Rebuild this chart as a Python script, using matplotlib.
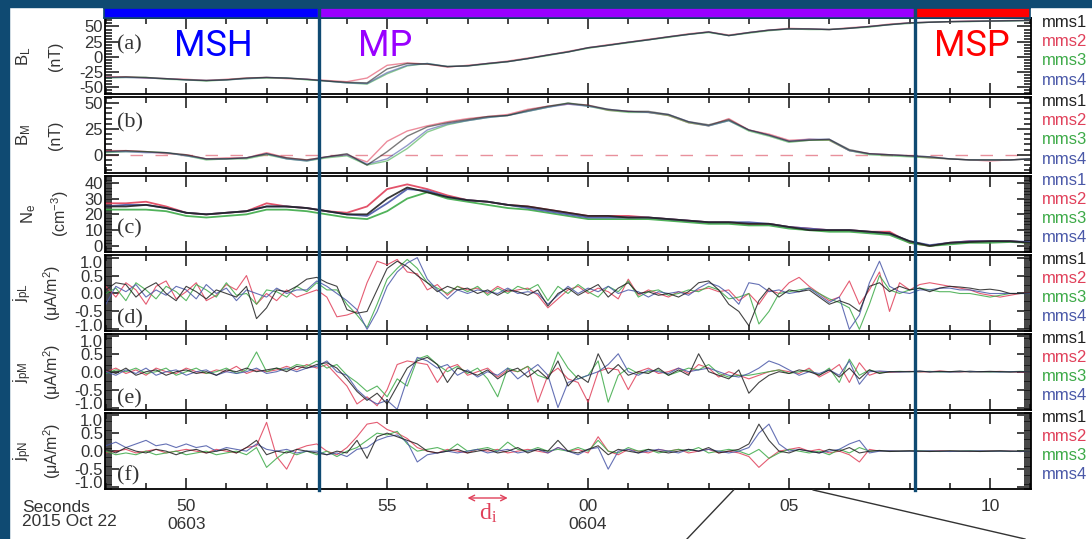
import matplotlib.pyplot as plt
import matplotlib.ticker as ticker
import matplotlib.transforms as mtransforms
from matplotlib.lines import Line2D
import numpy as np

plt.rcParams['font.family'] = ['Liberation Sans', 'DejaVu Sans']
plt.rcParams['mathtext.fontset'] = 'custom'
plt.rcParams['mathtext.rm'] = 'Liberation Sans'
plt.rcParams['mathtext.it'] = 'Liberation Sans:italic'

# ---------------- data (seconds after 06:03:00, 2015 Oct 22) ----------------
t_fast = np.arange(48, 71.001, 0.25)   # current density samples
t_slow = np.arange(48, 71.001, 0.5)    # field / density samples

names = ['mms1', 'mms2', 'mms3', 'mms4']

# B_L (nT)
bl_mms1 = [-34, -33, -34, -36, -38, -39, -38, -35, -34, -35,
           -37, -40, -42, -43, -20, -11, -12, -16, -15, -11,
           -8, -3, 3, 8, 15, 19, 24, 28, 33, 37,
           41, 35, 40, 44, 46, 46, 45, 47, 50, 53,
           56, 57, 58, 58.5, 59, 59.5, 60]
bl_mms2 = [-33, -33, -35, -36, -37, -39, -37, -35, -34, -36,
           -37, -39, -41, -35, -14, -10, -12, -17, -14, -11,
           -7, -2, 3, 9, 15, 20, 24, 29, 33, 38,
           41, 36, 40, 44, 47, 46, 45, 48, 50, 54,
           56, 57, 58, 59, 59, 60, 60]
bl_mms3 = [-35, -34, -34, -37, -38, -40, -38, -36, -35, -35,
           -38, -40, -43, -45, -28, -15, -11, -16, -15, -12,
           -8, -3, 2, 8, 14, 19, 23, 28, 32, 37,
           40, 35, 39, 43, 46, 45, 45, 47, 49, 53,
           55, 57, 58, 58, 59, 59, 60]
bl_mms4 = [-34, -34, -35, -36, -38, -39, -38, -36, -34, -35,
           -37, -40, -43, -44, -26, -14, -11, -16, -15, -11,
           -8, -3, 3, 8, 15, 19, 24, 28, 33, 37,
           41, 35, 40, 44, 46, 46, 45, 47, 50, 53,
           56, 57, 58, 58.5, 59, 59.5, 60]

# B_M (nT)
bm_mms1 = [3, 4, 3, 2, 0, -4, -4, -3, 1, -3,
           -5, -2, 1, -10, 3, 18, 27, 31, 34, 37,
           38, 43, 47, 50, 48, 44, 42, 42, 39, 32,
           29, 34, 24, 19, 13, 14, 15, 5, 1, 0,
           -1, -2, -4, -5, -5, -5, -4]
bm_mms2 = [4, 4, 3, 1, 0, -4, -3, -3, 2, -3,
           -5, -2, 0, -7, 13, 23, 28, 32, 35, 37,
           39, 44, 47, 49, 48, 43, 42, 41, 38, 31,
           28, 35, 24, 20, 14, 15, 14, 4, 1, 0,
           -1, -3, -4, -5, -6, -5, -4]
bm_mms3 = [2, 3, 3, 2, -1, -5, -4, -4, 0, -4,
           -6, -3, -1, -10, -6, 6, 22, 29, 33, 36,
           38, 42, 46, 50, 47, 43, 41, 41, 38, 31,
           28, 33, 23, 18, 12, 14, 14, 4, 0, -1,
           -2, -3, -4, -5, -5, -5, -4]
bm_mms4 = [3, 3, 2, 2, -1, -4, -4, -3, 1, -4,
           -6, -2, 0, -9, -4, 9, 24, 30, 33, 36,
           38, 42, 46, 49, 47, 44, 42, 41, 39, 32,
           28, 33, 24, 19, 13, 15, 15, 4, 1, 0,
           -1, -2, -4, -5, -5, -5, -4]

# N_e (cm^-3)
ne_mms1 = [25, 25, 26, 24, 21, 20, 21, 22, 25, 25,
           24, 22, 20, 20, 30, 37, 34, 31, 29, 28,
           26, 25, 23, 21, 19, 19, 18, 18, 17, 16,
           15, 15, 14, 14, 12, 10, 10, 10, 9, 8,
           3, 0, 2, 2.5, 3, 3, 2]
ne_mms2 = [27, 27, 28, 25, 21, 20, 21, 22, 27, 25,
           24, 22, 21, 25, 36, 39, 36, 32, 29, 28,
           26, 25, 23, 21, 19, 19, 19, 18, 17, 16,
           15, 15, 14, 14, 12, 11, 10, 10, 9, 9,
           2, 0, 2, 3, 3, 3, 2]
ne_mms3 = [23, 23, 23, 22, 19, 18, 19, 20, 23, 23,
           22, 20, 18, 17, 22, 30, 34, 30, 28, 26,
           24, 23, 21, 19, 17, 17, 17, 17, 16, 15,
           14, 14, 13, 13, 11, 10, 9, 9, 8, 7,
           2, 0, 1, 2, 2, 2.5, 2]
ne_mms4 = [25, 26, 26, 24, 21, 20, 21, 22, 25, 25,
           24, 22, 20, 19, 27, 36, 35, 31, 29, 28,
           26, 24, 22, 20, 18, 18, 18, 18, 17, 16,
           15, 15, 15, 14, 12, 11, 10, 10, 9, 8,
           3, 0.5, 2, 3, 3, 3, 2.5]

# j_pL (uA/m^2)
jl_mms1 = [0.1, 0.3, 0.25, -0.1, 0.15, 0.3, 0.0, -0.2,
           0.2, 0.05, -0.15, 0.1, 0.0, -0.1, 0.2, -0.7,
           -0.4, 0.1, 0.05, 0.2, 0.4, 0.45, 0.3, 0.2,
           -0.45, -0.55, -0.5, 0.1, 0.7, 0.9, 0.75, 0.5,
           0.3, 0.05, 0.2, 0.1, 0.15, 0.0, 0.1, -0.05,
           0.1, 0.05, -0.05, 0.1, -0.35, 0.0, 0.15, -0.05,
           0.1, 0.25, -0.1, 0.15, 0.3, 0.0, 0.05, -0.05,
           0.0, -0.1, 0.05, 0.3, 0.35, 0.1, -0.3, -0.5,
           -0.9, -0.2, 0.15, -0.1, 0.1, 0.05, 0.1, -0.1,
           -0.3, -0.2, -0.3, -0.5, 0.2, 0.3, 0.05, 0.2,
           0.1, 0.15, 0.05, 0.15, 0.2, 0.18, 0.15, 0.1,
           0.12, 0.08, 0.0, 0.0, 0.02]
jl_mms2 = [0.2, -0.1, 0.3, 0.1, -0.3, 0.2, 0.35, -0.15,
           0.05, 0.3, -0.2, -0.05, 0.25, 0.1, 0.5, -0.3,
           0.0, -0.2, 0.1, -0.1, 0.0, 0.1, -0.1, -0.65,
           -0.6, -0.5, 0.3, 0.9, 0.8, 0.95, 0.6, 0.55,
           0.1, 0.25, -0.05, 0.2, 0.1, 0.15, 0.0, 0.2,
           0.05, 0.1, 0.15, -0.05, -0.4, -0.15, 0.1, 0.2,
           0.0, 0.15, 0.05, -0.15, 0.4, -0.05, 0.1, 0.0,
           -0.1, 0.05, 0.0, 0.1, 0.15, 0.05, 0.1, -0.2,
           0.0, -0.3, 0.1, 0.0, 0.3, 0.45, 0.2, 0.0,
           -0.2, -0.1, 0.35, -0.3, 0.1, 0.6, -0.5, 0.3,
           0.1, 0.25, 0.3, 0.25, 0.2, 0.15, 0.1, 0.0,
           -0.05, -0.1, -0.05, 0.0, 0.02]
jl_mms3 = [0.0, 0.15, -0.2, 0.3, 0.1, -0.15, 0.2, 0.05,
           -0.2, 0.25, 0.1, -0.1, 0.3, -0.05, 0.0, -0.3,
           0.1, 0.05, -0.1, 0.2, 0.05, 0.3, 0.1, 0.1,
           -0.3, -0.6, -0.95, -0.3, 0.4, 0.7, 0.95, 0.7,
           0.3, 0.15, 0.0, 0.2, 0.05, 0.2, -0.05, 0.15,
           0.0, 0.2, 0.1, 0.25, -0.2, 0.2, 0.0, 0.25,
           0.05, -0.1, 0.2, 0.05, 0.35, -0.1, 0.05, 0.1,
           -0.05, 0.0, 0.1, 0.05, 0.2, 0.1, -0.15, -0.1,
           0.0, -0.85, -0.5, 0.0, 0.05, 0.1, 0.15, 0.0,
           -0.15, -0.25, -0.4, -1.0, -0.3, 0.5, 0.1, 0.0,
           0.1, 0.15, 0.1, 0.05, 0.05, 0.0, 0.0, -0.05,
           -0.1, -0.05, 0.0, 0.0, 0.0]
jl_mms4 = [-0.3, 0.2, 0.05, 0.25, -0.1, 0.1, -0.05, 0.2,
           0.1, -0.15, 0.25, 0.0, 0.15, -0.2, 0.1, 0.0,
           -0.1, 0.15, 0.0, 0.1, 0.1, 0.35, 0.2, 0.0,
           -0.2, -0.45, -1.0, -0.5, 0.2, 0.6, 0.85, 1.0,
           0.4, 0.1, -0.15, 0.1, 0.0, 0.1, 0.05, 0.0,
           0.15, 0.0, 0.05, 0.0, -0.3, -0.05, 0.2, 0.0,
           0.15, 0.05, 0.2, 0.0, 0.1, 0.05, -0.1, 0.05,
           0.0, 0.05, -0.05, 0.15, 0.3, 0.2, 0.0, -0.3,
           0.3, 0.25, 0.05, 0.1, 0.0, 0.05, 0.15, -0.05,
           -0.25, -0.1, -1.0, -0.6, 0.3, 0.9, 0.2, 0.05,
           0.0, 0.1, 0.1, 0.15, 0.15, 0.1, 0.1, 0.05,
           0.0, 0.0, 0.0, 0.0, 0.0]

# j_pM (uA/m^2)
jm_mms1 = [0.05, -0.05, 0.1, -0.1, 0.0, 0.05, -0.1, 0.0,
           0.05, -0.05, 0.0, -0.1, 0.05, 0.0, 0.1, 0.0,
           0.05, 0.1, 0.0, 0.15, 0.1, 0.2, 0.25, 0.1,
           -0.2, -0.55, -0.8, -0.6, -0.9, -0.4, 0.1, 0.3,
           0.4, 0.2, -0.3, 0.1, 0.0, -0.1, 0.05, -0.2,
           0.0, 0.1, -0.15, 0.05, -0.2, 0.3, -0.4, -0.1,
           -0.3, 0.5, -0.05, 0.2, -0.1, 0.0, -0.05, 0.1,
           -0.1, 0.05, -0.1, 0.5, 0.0, -0.1, -0.2, 0.05,
           -0.6, -0.3, -0.1, 0.0, -0.05, 0.05, 0.0, -0.1,
           0.05, -0.15, 0.1, -0.2, 0.05, -0.05, 0.0, 0.0,
           0.0, 0.02, -0.01, 0.01, 0.0, 0.02, -0.01, 0.0,
           0.01, 0.0, -0.01, 0.0, 0.0]
jm_mms2 = [0.0, 0.1, -0.05, 0.05, -0.1, 0.1, 0.0, -0.05,
           0.1, 0.0, -0.05, 0.05, 0.0, 0.15, -0.05, 0.05,
           0.0, 0.05, 0.15, 0.05, 0.2, 0.1, 0.2, -0.1,
           -0.4, -0.9, -0.7, -0.95, -0.5, 0.2, 0.3, 0.25,
           0.2, -0.3, 0.1, 0.2, -0.1, 0.0, 0.1, -0.15,
           0.05, 0.0, 0.15, -0.85, -0.1, 0.1, -0.2, -0.3,
           -0.85, 0.0, 0.1, 0.05, -0.5, 0.0, 0.1, -0.05,
           0.0, 0.1, -0.05, 0.2, 0.1, -0.15, 0.0, -0.1,
           -0.2, -0.1, 0.0, 0.05, 0.0, -0.05, 0.1, -0.15,
           0.0, 0.2, -0.3, 0.25, -0.1, 0.0, -0.02, 0.0,
           0.01, -0.01, 0.0, 0.02, 0.0, -0.01, 0.01, 0.0,
           0.0, 0.01, 0.0, -0.01, 0.0]
jm_mms3 = [-0.05, 0.05, 0.0, 0.1, -0.05, 0.0, 0.1, -0.1,
           0.0, 0.1, -0.05, 0.0, 0.1, -0.05, 0.05, 0.55,
           0.0, 0.1, 0.05, 0.2, 0.15, 0.3, 0.1, 0.2,
           -0.1, -0.3, -0.55, -0.4, -0.7, -0.2, -0.4, 0.35,
           0.45, 0.2, 0.0, 0.15, -0.05, 0.1, -0.2, -0.7,
           0.1, 0.0, 0.15, -0.1, -0.2, 0.55, 0.1, -0.2,
           -0.1, 0.3, -0.85, -0.1, 0.1, -0.05, 0.0, 0.05,
           -0.1, 0.0, 0.1, 0.05, 0.2, -0.05, -0.15, -0.1,
           -0.1, -0.05, 0.0, 0.05, -0.05, 0.0, 0.05, -0.1,
           0.1, -0.3, 0.35, -0.1, 0.05, -0.03, 0.0, 0.01,
           0.0, 0.0, 0.01, -0.01, 0.0, 0.0, 0.01, 0.0,
           -0.01, 0.0, 0.0, 0.01, 0.0]
jm_mms4 = [0.0, -0.1, 0.05, -0.05, 0.1, -0.1, 0.0, 0.05,
           -0.1, 0.0, 0.05, -0.1, 0.0, -0.05, 0.0, 0.1,
           -0.05, 0.0, 0.1, 0.0, 0.1, 0.15, 0.3, 0.0,
           -0.1, -0.5, -0.75, -0.9, -0.8, -1.05, -0.2, 0.4,
           0.3, 0.1, 0.2, -0.1, 0.05, -0.15, 0.0, -0.1,
           0.1, -0.2, 0.0, 0.2, -0.1, -1.0, -0.3, -0.2,
           -0.1, 0.0, 0.2, 0.5, 0.0, -0.1, 0.05, 0.0,
           -0.05, 0.1, 0.0, 0.05, 0.1, 0.0, -0.1, -0.15,
           -0.05, 0.1, 0.3, 0.2, 0.05, -0.1, 0.0, -0.05,
           0.05, -0.1, 0.3, -0.35, 0.0, 0.02, 0.0, -0.01,
           0.0, 0.01, 0.0, 0.0, -0.01, 0.0, 0.01, 0.0,
           0.0, -0.01, 0.0, 0.0, 0.0]

# j_pN (uA/m^2)
jn_mms1 = [0.05, -0.05, 0.1, 0.0, -0.05, 0.05, 0.0, -0.1,
           0.0, 0.05, -0.05, 0.0, 0.05, -0.05, 0.1, 0.3,
           -0.1, 0.0, -0.05, 0.05, 0.0, -0.05, -0.1, 0.0,
           -0.05, 0.3, -0.2, 0.4, 0.5, 0.4, 0.3, 0.2,
           0.0, -0.05, 0.0, 0.05, -0.05, 0.0, 0.05, -0.05,
           0.0, 0.1, -0.05, 0.05, 0.0, 0.3, 0.0, -0.05,
           0.05, 0.15, -0.1, 0.05, 0.0, -0.05, 0.05, 0.0,
           -0.05, 0.0, 0.05, 0.0, 0.1, -0.05, 0.0, 0.05,
           0.2, 0.75, 0.3, 0.0, -0.05, 0.05, 0.0, -0.05,
           0.05, 0.0, 0.1, -0.05, 0.0, 0.02, -0.01, 0.0,
           0.01, 0.0, -0.01, 0.0, 0.01, 0.0, 0.0, -0.01,
           0.0, 0.01, 0.0, 0.0, 0.0]
jn_mms2 = [-0.05, 0.0, 0.05, -0.05, 0.0, 0.05, -0.05, 0.0,
           0.05, 0.0, -0.05, 0.05, 0.0, -0.05, 0.1, 0.15,
           0.8, -0.15, -0.5, 0.05, 0.15, 0.2, 0.0, -0.1,
           0.1, 0.4, 0.75, 0.8, 0.6, 0.5, 0.35, 0.1,
           0.0, -0.05, 0.05, 0.0, -0.05, 0.05, 0.0, 0.05,
           -0.05, 0.0, 0.05, 0.0, -0.05, 0.1, 0.0, 0.05,
           -0.05, 0.4, 0.0, -0.1, 0.05, 0.0, -0.05, 0.05,
           0.0, 0.05, -0.05, 0.0, 0.05, -0.05, 0.0, -0.05,
           -0.15, -0.45, -0.2, 0.0, 0.05, 0.1, 0.0, 0.05,
           -0.05, 0.0, -0.1, -0.3, 0.05, 0.0, 0.01, 0.0,
           0.0, -0.01, 0.0, 0.01, 0.0, 0.0, -0.01, 0.0,
           0.01, 0.0, 0.0, -0.01, 0.0]
jn_mms3 = [0.0, -0.1, -0.05, -0.1, 0.0, -0.1, -0.05, 0.0,
           -0.1, -0.05, 0.0, -0.1, -0.05, 0.0, -0.1, 0.1,
           -0.45, -0.2, 0.0, -0.1, 0.0, -0.1, 0.0, -0.15,
           0.0, 0.1, 0.3, 0.5, 0.45, 0.55, 0.2, 0.0,
           0.05, 0.1, 0.0, 0.2, 0.0, 0.05, 0.1, 0.0,
           0.25, 0.05, 0.0, 0.1, 0.0, 0.05, 0.0, 0.1,
           0.0, 0.3, 0.0, -0.05, 0.1, 0.0, 0.05, -0.05,
           0.0, 0.05, 0.0, 0.1, -0.05, 0.0, 0.05, 0.0,
           -0.1, 0.05, -0.2, -0.05, 0.05, 0.0, -0.05, 0.0,
           -0.1, 0.05, -0.05, 0.1, 0.0, 0.01, 0.0, 0.0,
           0.0, 0.01, 0.0, -0.01, 0.0, 0.0, 0.01, 0.0,
           0.0, 0.0, -0.01, 0.0, 0.0]
jn_mms4 = [0.15, 0.25, 0.1, 0.2, 0.3, 0.15, 0.2, 0.1,
           0.2, 0.1, 0.15, 0.0, 0.1, 0.05, 0.0, 0.2,
           0.05, 0.0, 0.05, -0.05, 0.0, 0.0, -0.1, -0.05,
           -0.15, 0.05, 0.1, 0.3, 0.4, 0.45, 0.25, -0.3,
           -0.1, -0.05, 0.0, -0.05, 0.0, 0.05, -0.05, 0.0,
           0.05, -0.05, 0.0, 0.05, -0.05, 0.1, 0.0, -0.1,
           0.05, 0.1, -0.5, 0.0, 0.05, -0.05, 0.0, 0.05,
           0.0, -0.05, 0.05, 0.0, 0.05, 0.0, -0.05, 0.0,
           0.1, 0.5, 0.75, 0.2, 0.0, 0.05, 0.0, -0.05,
           0.0, 0.05, 0.2, 0.3, -0.05, 0.0, 0.01, 0.0,
           0.0, 0.0, 0.01, 0.0, -0.01, 0.0, 0.0, 0.01,
           0.0, 0.0, 0.0, -0.01, 0.0]

# regions and annotations
region_names = ['MSH', 'MP', 'MSP']
region_edges = [47.98, 53.31, 68.13, 71.02]
region_text_x = [50.68, 54.94, 69.56]
xtick_pos = [50, 55, 60, 65, 70]
xtick_lab = ['50\n0603', '55', '00\n0604', '05', '10']
di_span = [57.0, 58.0]
zoom_top = [63.62, 65.60]
zoom_bottom = [62.46, 70.87]

# ---------------- style ----------------
frame = '#0f4a72'
sc_colors = ['#222222', '#e0405a', '#3daa48', '#4a58a8']
region_colors = ['#0000ff', '#9900ff', '#ff0000']

W, H = 1092, 539
def fx(px): return px / W
def fy(py): return 1 - py / H

fig = plt.figure(figsize=(W / 100, H / 100), dpi=100)
fig.patches.append(plt.Rectangle((0, 0), fx(9), 1, transform=fig.transFigure,
                                 color=frame, zorder=0))
fig.patches.append(plt.Rectangle((0, fy(7)), 1, 7 / H, transform=fig.transFigure,
                                 color=frame, zorder=0))

panels = [
    dict(t=t_slow, y=[bl_mms1, bl_mms2, bl_mms3, bl_mms4], ylim=(-62, 64),
         ticks=[-50, -25, 0, 25, 50], minor=5, fmt='%d',
         l1=r'$\mathregular{B_L}$', l2='(nT)', tag='(a)', tag_y=0.65,
         lw=1.0, alpha=0.6, lab_x=(24, 55)),
    dict(t=t_slow, y=[bm_mms1, bm_mms2, bm_mms3, bm_mms4], ylim=(-18, 56),
         ticks=[0, 25, 50], minor=5, fmt='%d',
         l1=r'$\mathregular{B_M}$', l2='(nT)', tag='(b)', tag_y=0.66,
         lw=1.0, alpha=0.6, lab_x=(24, 55)),
    dict(t=t_slow, y=[ne_mms1, ne_mms2, ne_mms3, ne_mms4], ylim=(-4, 44.4),
         ticks=[0, 10, 20, 30, 40], minor=1, fmt='%d',
         l1=r'$\mathregular{N_e}$', l2=r'(cm$^{\mathregular{-3}}$)', tag='(c)', tag_y=0.30,
         lw=1.3, alpha=0.9, lab_x=(29, 60)),
    dict(t=t_fast, y=[jl_mms1, jl_mms2, jl_mms3, jl_mms4], ylim=(-1.05, 1.08),
         ticks=[-1, -0.5, 0, 0.5, 1], minor=0.05, fmt='%.1f',
         l1=r'$\mathregular{j_{pL}}$', l2=r'(μA/m$^{\mathregular{2}}$)', tag='(d)', tag_y=0.16,
         lw=0.8, alpha=0.85, lab_x=(23, 52)),
    dict(t=t_fast, y=[jm_mms1, jm_mms2, jm_mms3, jm_mms4], ylim=(-1.07, 1.06),
         ticks=[-1, -0.5, 0, 0.5, 1], minor=0.05, fmt='%.1f',
         l1=r'$\mathregular{j_{pM}}$', l2=r'(μA/m$^{\mathregular{2}}$)', tag='(e)', tag_y=0.15,
         lw=0.8, alpha=0.85, lab_x=(23, 52)),
    dict(t=t_fast, y=[jn_mms1, jn_mms2, jn_mms3, jn_mms4], ylim=(-1.05, 1.07),
         ticks=[-1, -0.5, 0, 0.5, 1], minor=0.05, fmt='%.1f',
         l1=r'$\mathregular{j_{pN}}$', l2=r'(μA/m$^{\mathregular{2}}$)', tag='(f)', tag_y=0.17,
         lw=0.8, alpha=0.85, lab_x=(23, 52)),
]

left, right, top0, bottom, gap = 105, 1031, 18, 489, 2.5
ph = (bottom - top0 - 5 * gap) / 6
axes = []
for i, p in enumerate(panels):
    top = top0 + i * (ph + gap)
    ax = fig.add_axes([fx(left), fy(top + ph), (right - left) / W, ph / H])
    axes.append(ax)
    for k in [1, 2, 3, 0]:
        ax.plot(p['t'], p['y'][k], color=sc_colors[k], lw=p['lw'], alpha=p['alpha'])
    if i == 1:
        ax.axhline(0, color='#e8909c', lw=1.0, dashes=(9, 9), zorder=0)
    ax.set_xlim(region_edges[0], region_edges[-1])
    ax.set_ylim(*p['ylim'])
    ax.set_xticks(xtick_pos)
    ax.xaxis.set_minor_locator(ticker.MultipleLocator(1))
    ax.set_yticks(p['ticks'])
    ax.yaxis.set_major_formatter(ticker.FormatStrFormatter(p['fmt']))
    ax.yaxis.set_minor_locator(ticker.MultipleLocator(p['minor']))
    ax.tick_params(which='both', direction='in', top=True, right=True,
                   width=1.1, color='#111111')
    ax.tick_params(axis='x', which='major', length=8)
    ax.tick_params(axis='x', which='minor', length=4)
    ax.tick_params(axis='y', which='major', length=10, pad=1.5, labelsize=12,
                   labelcolor='#333333')
    ax.tick_params(axis='y', which='minor', length=5)
    for s in ax.spines.values():
        s.set_linewidth(1.3)
    if p['minor'] == 0.05:
        # nudge the end labels inward, as in the original plot
        yt = ax.yaxis.get_major_ticks()
        for tk, dy in ((yt[0], 3.5), (yt[-1], -3.5)):
            tk.label1.set_transform(tk.label1.get_transform() +
                                    mtransforms.ScaledTranslation(0, dy / 72, fig.dpi_scale_trans))
    if i < 5:
        ax.tick_params(axis='x', labelbottom=False)
    else:
        ax.set_xticklabels(xtick_lab)
        ax.tick_params(axis='x', pad=7.5, labelsize=12.5, labelcolor='#333333')

    ax.text((p['lab_x'][0] - left) / (right - left), 0.5, p['l1'], rotation=90,
            transform=ax.transAxes, ha='center', va='center', fontsize=12, color='#333333')
    ax.text((p['lab_x'][1] - left) / (right - left), 0.5, p['l2'], rotation=90,
            transform=ax.transAxes, ha='center', va='center', fontsize=11.5, color='#333333')
    ax.text(0.013, p['tag_y'], p['tag'], transform=ax.transAxes, ha='left', va='center',
            fontsize=16, family='Liberation Serif', color='#333333')

    lab_colors = list(sc_colors)
    if i == 2:
        lab_colors[0] = sc_colors[3]
    for k, name in enumerate(names):
        ax.text(1.012, 1 - (k + 0.25) / 4, name, transform=ax.transAxes,
                ha='left', va='center', fontsize=12, color=lab_colors[k])

# region labels in panel (a)
for name, xpos, c in zip(region_names, region_text_x, region_colors):
    axes[0].text(xpos, 0.64, name, transform=mtransforms.blended_transform_factory(
        axes[0].transData, axes[0].transAxes), ha='center', va='center',
        fontsize=26, family='Roboto', color=c)

# colour bar on top
bar = fig.add_axes([fx(104), fy(17.5), (1030 - 104) / W, 9.5 / H])
bar.set_xlim(region_edges[0], region_edges[-1])
bar.set_ylim(0, 1)
for k, c in enumerate(region_colors):
    bar.axvspan(region_edges[k], region_edges[k + 1], color=c)
bar.set_xticks([])
bar.set_yticks([])
for s in bar.spines.values():
    s.set_color(frame)
    s.set_linewidth(1.2)

# boundary lines through all panels
trans = mtransforms.blended_transform_factory(axes[-1].transData, fig.transFigure)
for tb in region_edges[1:-1]:
    fig.add_artist(Line2D([tb, tb], [fy(490), fy(8)], transform=trans,
                          color=frame, lw=2.4, zorder=10))

# zoom indicator lines
for xt, xb in zip(zoom_top, zoom_bottom):
    fig.add_artist(Line2D([xt, xb], [fy(490), 0], transform=trans,
                          color='#333333', lw=1.0))

# ion inertial length marker
axes[-1].annotate('', xy=(di_span[0], fy(498)), xytext=(di_span[1], fy(498)),
                  xycoords=trans, textcoords=trans,
                  arrowprops=dict(arrowstyle='<->', color='#e0405a', lw=1.0,
                                  shrinkA=0, shrinkB=0, mutation_scale=10))
axes[-1].text(np.mean(di_span), fy(502), r'$\mathregular{d_i}$', transform=trans,
              ha='center', va='top', fontsize=17, family='Liberation Serif',
              color='#e0405a')

fig.text(fx(22), fy(500), 'Seconds\n2015 Oct 22', ha='left', va='top',
         fontsize=12.5, color='#333333', linespacing=0.95)

fig.savefig('out.png', dpi=100)
